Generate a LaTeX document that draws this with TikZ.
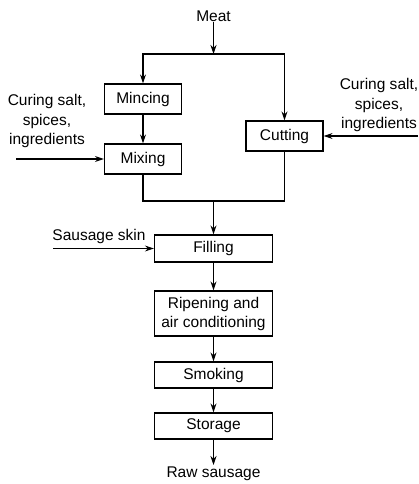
\documentclass[tikz,border=0pt]{standalone}
\usepackage{fontspec}
\setmainfont{Liberation Sans}
\usetikzlibrary{arrows.meta}
\begin{document}
\begin{tikzpicture}[x=1pt,y=1pt,
  box/.style={draw,line width=1.2pt,minimum width=77pt,minimum height=30pt,inner sep=0pt,align=center,font=\fontsize{15.5}{19}\selectfont},
  wbox/.style={box,minimum width=118pt},
  lbl/.style={inner sep=0pt,align=center,font=\fontsize{15.5}{19.5}\selectfont},
  arr/.style={line width=1.2pt,-{Stealth[length=9pt,width=6pt]}},
  ln/.style={line width=1.2pt}]
\useasboundingbox (0,0) rectangle (418,-484);
\node[lbl] (meat) at (213.5,-16) {Meat};
\coordinate (split) at (213.5,-54);
\node[box] (mincing) at (143,-99) {Mincing};
\node[box] (mixing) at (143,-159) {Mixing};
\node[box] (cutting) at (284.5,-136) {Cutting};
\node[lbl] (lefttxt) at (47,-121) {Curing salt,\\spices,\\ingredients};
\node[lbl] (righttxt) at (379,-105) {Curing salt,\\spices,\\ingredients};
\coordinate (lin) at (16,-159);
\coordinate (rin) at (418,-136);
\coordinate (join) at (213.5,-201);
\node[wbox,minimum height=27pt] (filling) at (213.5,-248.5) {Filling};
\node[lbl,anchor=south] (skintxt) at (99,-244) {Sausage skin};
\coordinate (skin) at (53,-248.5);
\node[wbox,minimum height=45pt] (ripening) at (213.5,-313.5) {Ripening and\\air conditioning};
\node[wbox,minimum height=26pt] (smoking) at (213.5,-375) {Smoking};
\node[wbox,minimum height=26pt] (storage) at (213.5,-426) {Storage};
\node[lbl] (raw) at (213.5,-474) {Raw sausage};
\coordinate (rawtop) at (213.5,-465);
\draw[arr] (meat) -- (split);
\draw[arr] (split) -| (mincing.north);
\draw[arr] (split) -| (cutting.north);
\draw[arr] (mincing) -- (mixing);
\draw[arr] (lin) -- (mixing.west);
\draw[arr] (rin) -- (cutting.east);
\draw[ln] (mixing.south) |- (join) -| (cutting.south);
\draw[arr] (join) -- (filling.north);
\draw[arr] (skin) -- (filling.west);
\draw[arr] (filling) -- (ripening);
\draw[arr] (ripening) -- (smoking);
\draw[arr] (smoking) -- (storage);
\draw[arr] (storage) -- (rawtop);
\end{tikzpicture}
\end{document}
